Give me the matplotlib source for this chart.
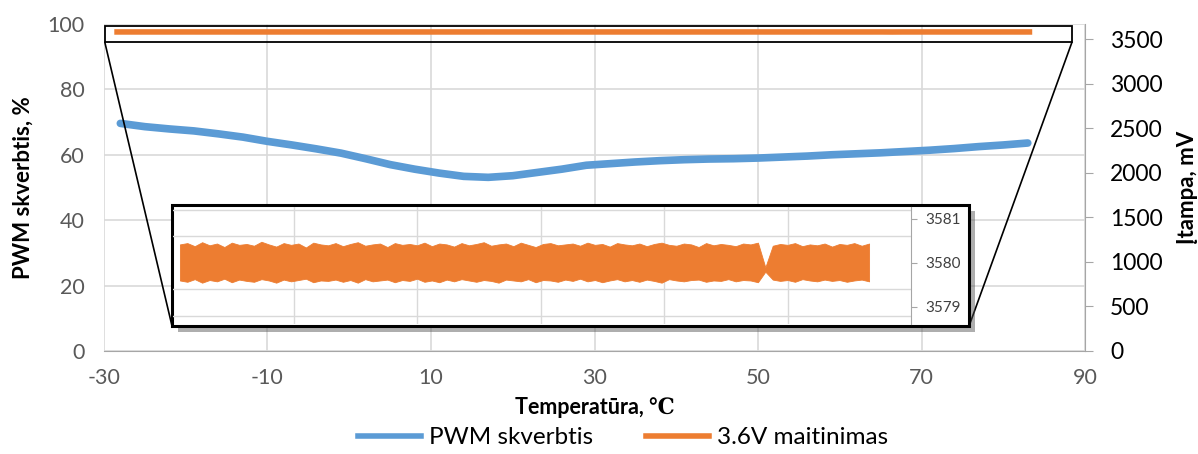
import matplotlib
matplotlib.use('Agg')
import numpy as np
import matplotlib.pyplot as plt
from matplotlib.patches import Rectangle, ConnectionPatch
from matplotlib.lines import Line2D
import matplotlib.patheffects as pe

plt.rcParams['font.family'] = ['Lato', 'DejaVu Sans']
plt.rcParams['axes.unicode_minus'] = False

# PWM skverbtis, % (kairė ašis)
pwm_temp = [-28, -25, -22, -19, -16, -13, -10, -7, -4, -1, 2, 5, 8, 11, 14, 17, 20,
            23, 26, 29, 32, 35, 38, 41, 44, 47, 50, 53, 56, 59, 62, 65, 68, 71, 74,
            77, 80, 83]
pwm_val = [69.6, 68.6, 67.9, 67.3, 66.4, 65.4, 64.1, 63.0, 61.8, 60.5, 58.8, 57.0,
           55.6, 54.4, 53.4, 53.1, 53.6, 54.6, 55.6, 56.8, 57.3, 57.8, 58.2, 58.5,
           58.7, 58.8, 59.0, 59.3, 59.6, 60.0, 60.3, 60.6, 61.0, 61.4, 61.9, 62.5,
           63.0, 63.6]

# 3.6V maitinimas, mV (triukšmo juostos viršus / apačia)
v_temp = [-28.4, -27.2, -26.0, -24.8, -23.6, -22.4, -21.2, -20.0, -18.8, -17.6,
          -16.4, -15.2, -14.0, -12.8, -11.6, -10.4, -9.2, -8.0, -6.8, -5.6,
          -4.4, -3.2, -2.0, -0.8, 0.4, 1.6, 2.8, 4.0, 5.2, 6.4,
          7.6, 8.8, 10.0, 11.2, 12.4, 13.6, 14.8, 16.0, 17.2, 18.4,
          19.6, 20.8, 22.0, 23.2, 24.4, 25.6, 26.8, 28.0, 29.2, 30.4,
          31.6, 32.8, 34.0, 35.2, 36.4, 37.6, 38.8, 40.0, 41.2, 42.4,
          43.6, 44.8, 46.0, 47.2, 48.4, 49.6, 50.8, 52.0, 53.2, 54.4,
          55.6, 56.8, 58.0, 59.2, 60.4, 61.6, 62.8, 64.0, 65.2, 66.4,
          67.6, 68.8, 70.0, 71.2, 72.4, 73.6, 74.8, 76.0, 77.2, 78.4,
          79.6, 80.8, 82.0, 83.2]
v_hi = [3580.42, 3580.45, 3580.38, 3580.47, 3580.40, 3580.44, 3580.36, 3580.46, 3580.41, 3580.43,
        3580.39, 3580.48, 3580.42, 3580.37, 3580.45, 3580.41, 3580.44, 3580.35, 3580.46, 3580.42,
        3580.40, 3580.45, 3580.38, 3580.43, 3580.47, 3580.39, 3580.42, 3580.44, 3580.36, 3580.45,
        3580.41, 3580.43, 3580.40, 3580.46, 3580.38, 3580.44, 3580.42, 3580.37, 3580.45, 3580.40,
        3580.43, 3580.47, 3580.39, 3580.42, 3580.44, 3580.38, 3580.46, 3580.41, 3580.36, 3580.43,
        3580.45, 3580.40, 3580.42, 3580.44, 3580.39, 3580.46, 3580.41, 3580.43, 3580.37, 3580.45,
        3580.42, 3580.40, 3580.44, 3580.38, 3580.43, 3580.46, 3580.41, 3580.39, 3580.44, 3580.42,
        3580.36, 3580.45, 3580.40, 3580.43, 3580.41, 3580.38, 3580.44, 3580.42, 3580.46, 3579.90,
        3580.39, 3580.43, 3580.41, 3580.45, 3580.38, 3580.42, 3580.40, 3580.44, 3580.37, 3580.43,
        3580.41, 3580.45, 3580.39, 3580.44]
v_lo = [3579.60, 3579.57, 3579.63, 3579.55, 3579.61, 3579.58, 3579.64, 3579.56, 3579.62, 3579.59,
        3579.57, 3579.63, 3579.60, 3579.55, 3579.62, 3579.58, 3579.61, 3579.64, 3579.56, 3579.60,
        3579.59, 3579.62, 3579.57, 3579.61, 3579.55, 3579.63, 3579.58, 3579.60, 3579.62, 3579.56,
        3579.61, 3579.59, 3579.64, 3579.57, 3579.60, 3579.56, 3579.62, 3579.58, 3579.63, 3579.60,
        3579.57, 3579.61, 3579.59, 3579.55, 3579.62, 3579.60, 3579.58, 3579.63, 3579.56, 3579.61,
        3579.60, 3579.57, 3579.62, 3579.59, 3579.64, 3579.58, 3579.61, 3579.56, 3579.60, 3579.63,
        3579.58, 3579.61, 3579.57, 3579.62, 3579.59, 3579.55, 3579.63, 3579.60, 3579.58, 3579.61,
        3579.62, 3579.57, 3579.60, 3579.59, 3579.63, 3579.58, 3579.61, 3579.60, 3579.56, 3579.80,
        3579.62, 3579.59, 3579.61, 3579.57, 3579.63, 3579.60, 3579.58, 3579.62, 3579.59, 3579.61,
        3579.57, 3579.60, 3579.62, 3579.58]

x_ticks = [-30, -10, 10, 30, 50, 70, 90]
left_ticks = [0, 20, 40, 60, 80, 100]
right_ticks = [0, 500, 1000, 1500, 2000, 2500, 3000, 3500]
inset_ticks = [3579, 3580, 3581]
inset_grid = [3578.8, 3579.4, 3580.0, 3580.6, 3581.2]

blue = '#5B9BD5'
orange = '#ED7D31'
grid_c = '#D9D9D9'
axis_c = '#A6A6A6'

fig = plt.figure(figsize=(11.98, 4.54), dpi=100)
ax = fig.add_axes([0.0868, 0.2269, 0.8189, 0.7203])
ax2 = ax.twinx()

ax.plot(pwm_temp, pwm_val, color=blue, lw=5.5, solid_capstyle='round', zorder=3)
ax.set_xlim(-30, 90)
ax.set_ylim(0, 100)
ax.set_xticks(x_ticks)
ax.set_yticks(left_ticks)
ax.grid(True, color=grid_c, lw=1.2)
ax.set_axisbelow(True)
ax.tick_params(axis='both', length=0, labelsize=15.5, labelcolor='#595959')
ax.tick_params(axis='x', pad=12)
ax.tick_params(axis='y', pad=14)
for s in ['top', 'left', 'right']:
    ax.spines[s].set_visible(False)
ax.spines['bottom'].set_color(axis_c)
ax.set_xlabel('Temperatūra, ℃', fontsize=15.5, fontweight='bold', labelpad=7,
              family=['Lato', 'DejaVu Serif'])
ax.set_ylabel('PWM skverbtis, %', fontsize=16, fontweight='bold', labelpad=10)

ax2.plot(v_temp, v_hi, color=orange, lw=4, zorder=3)
ax2.set_ylim(0, 3670)
ax2.set_yticks(right_ticks)
ax2.tick_params(axis='y', length=6, color=axis_c, labelsize=16.5, pad=12)
for s in ['top', 'left', 'bottom']:
    ax2.spines[s].set_visible(False)
ax2.spines['right'].set_color(axis_c)
ax2.set_ylabel('Įtampa, mV', fontsize=16, fontweight='bold', labelpad=10)

# priartinimo rėmelis viršuje
ax2.add_patch(Rectangle((-29.9, 3465), 118.3, 182, fill=False, ec='black',
                        lw=1.3, zorder=5))

# įterptas grafikas su šešėliu
frame = Rectangle((0.1436, 0.2819), 0.6653, 0.2665, transform=fig.transFigure,
                  fc='white', ec='black', lw=2.2, zorder=10,
                  path_effects=[pe.SimplePatchShadow(offset=(4, -4), alpha=0.45),
                                pe.Normal()])
fig.patches.append(frame)

ins = fig.add_axes([0.1445, 0.2863, 0.6160, 0.2577], zorder=11)
ins.patch.set_alpha(0)
ins.fill_between(v_temp, v_lo, v_hi, color=orange, lw=0.6, ec=orange, zorder=3)
ins.set_xlim(-29.5, 90)
ins.set_ylim(3578.61, 3581.27)
ins.set_xticks([-10, 10, 30, 50, 70])
ins.set_xticklabels([])
ins.set_yticks(inset_ticks)
ins.set_yticks(inset_grid, minor=True)
ins.grid(True, axis='x', color=grid_c, lw=1)
ins.grid(True, axis='y', which='minor', color=grid_c, lw=1)
ins.set_axisbelow(True)
ins.yaxis.tick_right()
ins.tick_params(axis='y', which='major', length=4, color=axis_c, labelsize=11,
                labelcolor='#404040', pad=6)
ins.tick_params(axis='y', which='minor', length=0)
ins.tick_params(axis='x', length=0)
for s in ['top', 'left', 'bottom']:
    ins.spines[s].set_visible(False)
ins.spines['right'].set_color(axis_c)

# jungiamosios linijos
for (xa, xb) in [((-29.9, 3465), (0.1436, 0.2819)), ((88.4, 3465), (0.8089, 0.2819))]:
    con = ConnectionPatch(xyA=xa, coordsA=ax2.transData, xyB=xb,
                          coordsB=fig.transFigure, color='black', lw=1.2, zorder=9)
    fig.add_artist(con)

handles = [Line2D([], [], color=blue, lw=4), Line2D([], [], color=orange, lw=4)]
fig.legend(handles, ['PWM skverbtis', '3.6V maitinimas'], loc='lower center',
           bbox_to_anchor=(0.52, -0.035), ncol=2, frameon=False, fontsize=17.5,
           handlelength=2.6, columnspacing=2.2, handletextpad=0.3)

fig.savefig('out.png', dpi=100)
